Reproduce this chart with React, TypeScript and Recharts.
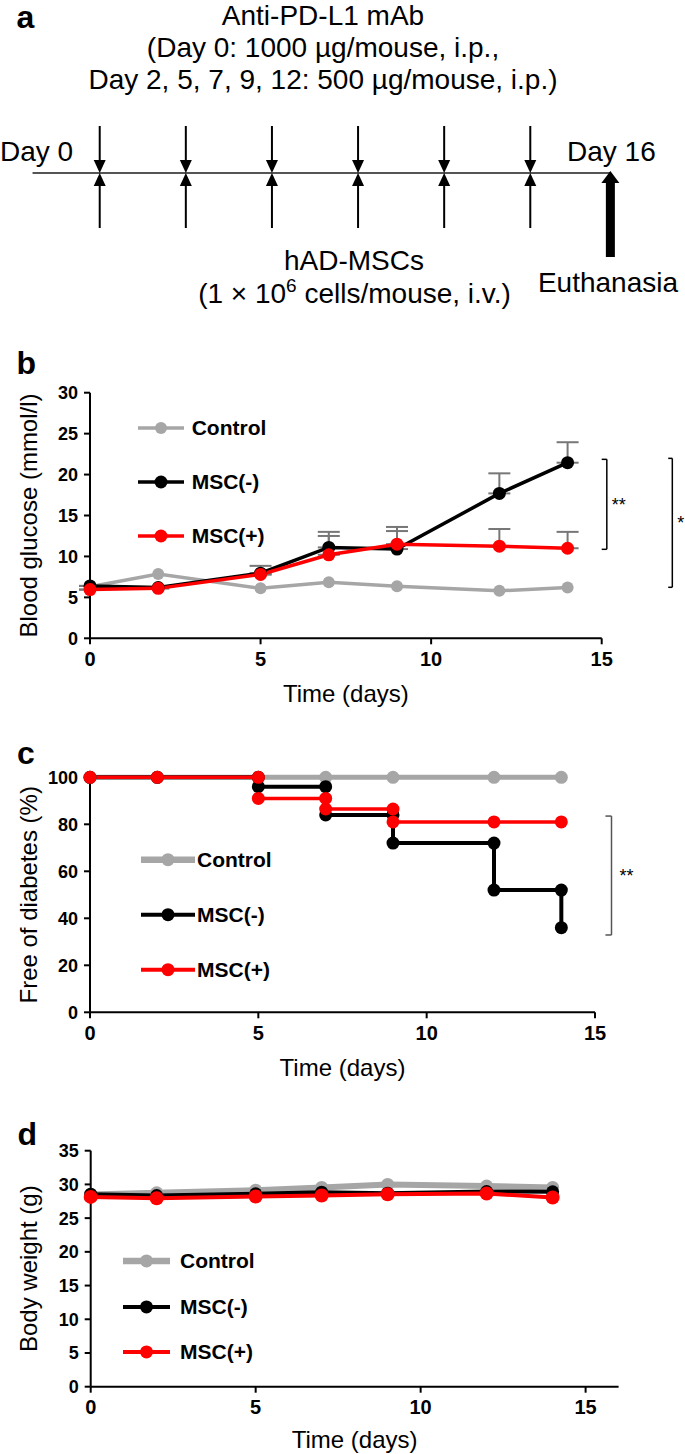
import React from "react";
import {
  ComposedChart,
  LineChart,
  Line,
  XAxis,
  YAxis,
  ErrorBar,
  ReferenceLine,
  Legend,
  ScatterChart,
  Scatter,
} from "recharts";

const FONT = '"Liberation Sans", Arial, Helvetica, sans-serif';
const GRAY = "#a6a6a6";
const BLACK = "#000000";
const RED = "#ff0000";

// a: treatment schedule (schematic slots, evenly spaced)
const doseSlots = [1, 2, 3, 4, 5, 6];
const timelineStart = 0.22;
const euthanasiaSlot = 6.93;

// b/d: measurement days
const days = [0, 2, 5, 7, 9, 12, 14];

// b: blood glucose (mmol/l)
const glucoseControl = [6.3, 7.85, 6.1, 6.85, 6.35, 5.8, 6.2];
const glucoseNeg = [6.4, 6.2, 7.95, 11.1, 10.9, 17.7, 21.45];
const glucosePos = [5.95, 6.1, 7.8, 10.2, 11.5, 11.25, 11.0];
const glucoseNegErr = [0, 0, 0.9, 1.9, 2.7, 2.45, 2.5];
const glucosePosErr = [0, 0, 0, 2.3, 1.6, 2.1, 2.0];
const glucoseTicks = [0, 5, 10, 15, 20, 25, 30];

// c: free of diabetes (%), step curves
const freeControlDays = [0, 2, 5, 7, 9, 12, 14];
const freeControl = [100, 100, 100, 100, 100, 100, 100];
const freeNegDays = [0, 2, 5, 5, 7, 7, 9, 9, 12, 12, 14, 14];
const freeNeg = [100, 100, 100, 96, 96, 84, 84, 72, 72, 52, 52, 36];
const freePosDays = [0, 2, 5, 5, 7, 7, 9, 9, 12, 14];
const freePos = [100, 100, 100, 91, 91, 86.5, 86.5, 81, 81, 81];
const freeTicks = [0, 20, 40, 60, 80, 100];

// d: body weight (g)
const weightControl = [28.5, 28.75, 29.15, 29.55, 30.0, 29.75, 29.55];
const weightNeg = [28.55, 28.35, 28.6, 28.85, 28.7, 28.95, 28.9];
const weightPos = [28.15, 27.95, 28.2, 28.35, 28.55, 28.65, 28.05];
const weightTicks = [0, 5, 10, 15, 20, 25, 30, 35];

const dayTicks = [0, 5, 10, 15];

const glucoseBrackets = [
  { x: 15.15, top: 21.86, bottom: 10.87, label: "**", arm: 0.15 },
  { x: 17.07, top: 21.98, bottom: 6.23, label: "*", arm: 0.12 },
];
const freeBrackets = [{ x: 15.49, top: 83.5, bottom: 32.9, label: "**", arm: 0.18 }];

type LegendItem = { name: string; color: string; width: number; r: number };

const legendB: LegendItem[] = [
  { name: "Control", color: GRAY, width: 3.5, r: 6 },
  { name: "MSC(-)", color: BLACK, width: 3.5, r: 6.5 },
  { name: "MSC(+)", color: RED, width: 3.5, r: 6.5 },
];
const legendCD: LegendItem[] = [
  { name: "Control", color: GRAY, width: 6.5, r: 6.5 },
  { name: "MSC(-)", color: BLACK, width: 4, r: 6.5 },
  { name: "MSC(+)", color: RED, width: 4, r: 6.5 },
];

const LegendRows = ({
  items,
  rowH,
  lineW,
  textX,
}: {
  items: LegendItem[];
  rowH: number;
  lineW: number;
  textX: number;
}) => (
  <div style={{ fontFamily: FONT }}>
    {items.map((s) => (
      <div key={s.name} style={{ position: "relative", height: rowH, width: 170 }}>
        <svg
          width={lineW}
          height={rowH}
          style={{ position: "absolute", left: 0, top: 0, overflow: "visible" }}
        >
          <line x1={0} x2={lineW} y1={rowH / 2} y2={rowH / 2} stroke={s.color} strokeWidth={s.width} />
          <circle cx={lineW / 2} cy={rowH / 2} r={s.r} fill={s.color} />
        </svg>
        <span
          style={{
            position: "absolute",
            left: textX,
            top: 0,
            lineHeight: `${rowH}px`,
            fontSize: 21,
            fontWeight: "bold",
            color: "#000",
            whiteSpace: "nowrap",
          }}
        >
          {s.name}
        </span>
      </div>
    ))}
  </div>
);

const axisLine = { stroke: "#000", strokeWidth: 2 };
const yTick = { fontSize: 18, fontWeight: "bold", fill: "#000" };
const xTick = { fontSize: 20, fontWeight: "bold", fill: "#000" };

function renderBrackets(
  list: { x: number; top: number; bottom: number; label: string; arm: number }[],
  color: string,
  width: number,
  offset: number
) {
  return list.flatMap((b, i) => [
    <ReferenceLine
      key={`v${i}`}
      segment={[
        { x: b.x, y: b.top },
        { x: b.x, y: b.bottom },
      ]}
      stroke={color}
      strokeWidth={width}
      ifOverflow="visible"
      label={{ value: b.label, position: "right", offset, fontSize: 18, fill: "#000" }}
    />,
    <ReferenceLine
      key={`t${i}`}
      segment={[
        { x: b.x - b.arm, y: b.top },
        { x: b.x, y: b.top },
      ]}
      stroke={color}
      strokeWidth={width}
      ifOverflow="visible"
    />,
    <ReferenceLine
      key={`b${i}`}
      segment={[
        { x: b.x - b.arm, y: b.bottom },
        { x: b.x, y: b.bottom },
      ]}
      stroke={color}
      strokeWidth={width}
      ifOverflow="visible"
    />,
  ]);
}

const DoseArrows = (props: any) => {
  const { cx, cy } = props;
  return (
    <g>
      <line x1={cx} x2={cx} y1={cy - 47} y2={cy - 12} stroke="#000" strokeWidth={2} />
      <polygon points={`${cx - 6},${cy - 13} ${cx + 6},${cy - 13} ${cx},${cy}`} fill="#000" />
      <line x1={cx} x2={cx} y1={cy + 55} y2={cy + 12} stroke="#000" strokeWidth={2} />
      <polygon points={`${cx - 6},${cy + 13} ${cx + 6},${cy + 13} ${cx},${cy}`} fill="#000" />
    </g>
  );
};

const EuthArrow = (props: any) => {
  const { cx, cy } = props;
  const tip = cy - 2;
  return (
    <g>
      <rect x={cx - 4.5} y={tip + 10} width={9} height={84 - 8} fill="#000" />
      <polygon points={`${cx - 9},${tip + 12} ${cx + 9},${tip + 12} ${cx},${tip}`} fill="#000" />
    </g>
  );
};

// dots for panel b drawn as scatter marks so they sit above the error bars
const GlucoseDot = (props: any) => {
  const { cx, cy, fill, r } = props;
  return <circle cx={cx} cy={cy} r={r} fill={fill} />;
};

export default function App() {
  const glucoseRows = days.map((day, i) => ({
    day,
    control: glucoseControl[i],
    neg: glucoseNeg[i],
    pos: glucosePos[i],
    negErr: [0, glucoseNegErr[i]],
    posErr: [0, glucosePosErr[i]],
  }));
  const weightRows = days.map((day, i) => ({
    day,
    control: weightControl[i],
    neg: weightNeg[i],
    pos: weightPos[i],
  }));
  const freeControlRows = freeControlDays.map((day, i) => ({ day, v: freeControl[i] }));
  const freeNegRows = freeNegDays.map((day, i) => ({ day, v: freeNeg[i] }));
  const freePosRows = freePosDays.map((day, i) => ({ day, v: freePos[i] }));

  const labelStyle = { fontSize: 24, fill: "#000" };

  return (
    <div
      style={{
        position: "absolute",
        left: 0,
        top: 0,
        width: 685,
        height: 1454,
        background: "#fff",
        fontFamily: FONT,
        overflow: "hidden",
      }}
    >
      {/* a: schedule */}
      <div style={{ position: "absolute", left: 0, top: 73.3 }}>
        <ScatterChart width={685} height={200} margin={{ top: 10, right: 68.6, bottom: 10, left: 13.6 }}>
          <XAxis type="number" dataKey="x" domain={[0, 7]} hide />
          <YAxis type="number" dataKey="y" domain={[-1, 1]} hide />
          <ReferenceLine
            segment={[
              { x: timelineStart, y: 0 },
              { x: euthanasiaSlot, y: 0 },
            ]}
            stroke="#555"
            strokeWidth={2}
            ifOverflow="visible"
          />
          <Scatter data={doseSlots.map((x) => ({ x, y: 0 }))} shape={DoseArrows} isAnimationActive={false} />
          <Scatter data={[{ x: euthanasiaSlot, y: 0 }]} shape={EuthArrow} isAnimationActive={false} />
        </ScatterChart>
      </div>

      {/* b: blood glucose */}
      <div style={{ position: "absolute", left: 0, top: 340 }}>
        <ComposedChart width={685} height={380} data={glucoseRows} margin={{ top: 52.7, right: 83.3, bottom: 11.7, left: 0 }}>
          <XAxis
            type="number"
            dataKey="day"
            domain={[0, 15]}
            ticks={dayTicks}
            height={70}
            axisLine={axisLine}
            tickLine={axisLine}
            tickSize={6}
            tickMargin={7}
            tick={xTick}
            label={{ value: "Time (days)", position: "insideBottom", offset: 6.3, ...labelStyle }}
          />
          <YAxis
            type="number"
            domain={[0, 30]}
            ticks={glucoseTicks}
            width={90}
            axisLine={axisLine}
            tickLine={axisLine}
            tickSize={6}
            tickMargin={6}
            tick={yTick}
            label={{
              value: "Blood glucose (mmol/l)",
              angle: -90,
              position: "insideLeft",
              offset: 28,
              style: { textAnchor: "middle" },
              ...labelStyle,
            }}
          />
          <Legend
            layout="vertical"
            align="center"
            verticalAlign="middle"
            wrapperStyle={{ left: 138, top: 60.7, width: 170, height: 162 }}
            content={() => <LegendRows items={legendB} rowH={54} lineW={46} textX={53.7} />}
          />
          <Line dataKey="neg" stroke="none" dot={false} activeDot={false} isAnimationActive={false} legendType="none">
            <ErrorBar dataKey="negErr" direction="y" width={11} stroke="#777" strokeWidth={2} />
          </Line>
          <Line dataKey="pos" stroke="none" dot={false} activeDot={false} isAnimationActive={false} legendType="none">
            <ErrorBar dataKey="posErr" direction="y" width={11} stroke="#777" strokeWidth={2} />
          </Line>
          <Line dataKey="control" stroke={GRAY} strokeWidth={3.5} dot={false} activeDot={false} isAnimationActive={false} />
          <Line dataKey="neg" stroke={BLACK} strokeWidth={3.5} dot={false} activeDot={false} isAnimationActive={false} />
          <Line dataKey="pos" stroke={RED} strokeWidth={3.5} dot={false} activeDot={false} isAnimationActive={false} />
          <Scatter dataKey="control" fill={GRAY} shape={(p: any) => <GlucoseDot {...p} r={6} />} isAnimationActive={false} legendType="none" />
          <Scatter dataKey="neg" fill={BLACK} shape={(p: any) => <GlucoseDot {...p} r={6.5} />} isAnimationActive={false} legendType="none" />
          <Scatter dataKey="pos" fill={RED} shape={(p: any) => <GlucoseDot {...p} r={6.5} />} isAnimationActive={false} legendType="none" />
          {renderBrackets(glucoseBrackets, "#000", 1.5, 5)}
        </ComposedChart>
      </div>

      {/* c: free of diabetes */}
      <div style={{ position: "absolute", left: 0, top: 740 }}>
        <LineChart width={685} height={345} margin={{ top: 37.3, right: 90, bottom: 2.7, left: 0 }}>
          <XAxis
            type="number"
            dataKey="day"
            domain={[0, 15]}
            ticks={dayTicks}
            height={70}
            axisLine={axisLine}
            tickLine={axisLine}
            tickSize={6}
            tickMargin={7}
            tick={xTick}
            allowDuplicatedCategory
            label={{ value: "Time (days)", position: "insideBottom", offset: 6.3, ...labelStyle }}
          />
          <YAxis
            type="number"
            domain={[0, 100]}
            ticks={freeTicks}
            width={90}
            axisLine={axisLine}
            tickLine={axisLine}
            tickSize={6}
            tickMargin={6}
            tick={yTick}
            label={{
              value: "Free of diabetes (%)",
              angle: -90,
              position: "insideLeft",
              offset: 28,
              style: { textAnchor: "middle" },
              ...labelStyle,
            }}
          />
          <Legend
            layout="vertical"
            align="center"
            verticalAlign="middle"
            wrapperStyle={{ left: 140.7, top: 91.6, width: 170, height: 167 }}
            content={() => <LegendRows items={legendCD} rowH={55.4} lineW={54} textX={56.3} />}
          />
          <Line data={freeControlRows} dataKey="v" stroke={GRAY} strokeWidth={5} dot={{ r: 6.5, fill: GRAY, stroke: "none" }} activeDot={false} isAnimationActive={false} />
          <Line data={freeNegRows} dataKey="v" stroke={BLACK} strokeWidth={4} dot={{ r: 6.5, fill: BLACK, stroke: "none" }} activeDot={false} isAnimationActive={false} />
          <Line data={freePosRows} dataKey="v" stroke={RED} strokeWidth={3.5} dot={{ r: 6.5, fill: RED, stroke: "none" }} activeDot={false} isAnimationActive={false} />
          {renderBrackets(freeBrackets, "#555", 1.5, 8)}
        </LineChart>
      </div>

      {/* d: body weight */}
      <div style={{ position: "absolute", left: 0, top: 1100 }}>
        <LineChart width={685} height={354} data={weightRows} margin={{ top: 50.7, right: 66.4, bottom: 2.3, left: 0 }}>
          <XAxis
            type="number"
            dataKey="day"
            domain={[0, 16]}
            ticks={dayTicks}
            height={65}
            axisLine={axisLine}
            tickLine={axisLine}
            tickSize={6}
            tickMargin={7}
            tick={xTick}
            label={{ value: "Time (days)", position: "insideBottom", offset: 3.7, ...labelStyle }}
          />
          <YAxis
            type="number"
            domain={[0, 35]}
            ticks={weightTicks}
            width={90.7}
            axisLine={axisLine}
            tickLine={axisLine}
            tickSize={6}
            tickMargin={6}
            tick={yTick}
            label={{
              value: "Body weight (g)",
              angle: -90,
              position: "insideLeft",
              offset: 28,
              style: { textAnchor: "middle" },
              ...labelStyle,
            }}
          />
          <Legend
            layout="vertical"
            align="center"
            verticalAlign="middle"
            wrapperStyle={{ left: 123, top: 137.8, width: 170, height: 138 }}
            content={() => <LegendRows items={legendCD} rowH={45.8} lineW={47} textX={57} />}
          />
          <Line dataKey="control" stroke={GRAY} strokeWidth={6} dot={{ r: 6.5, fill: GRAY, stroke: "none" }} activeDot={false} isAnimationActive={false} />
          <Line dataKey="neg" stroke={BLACK} strokeWidth={4} dot={{ r: 6.5, fill: BLACK, stroke: "none" }} activeDot={false} isAnimationActive={false} />
          <Line dataKey="pos" stroke={RED} strokeWidth={4} dot={{ r: 7, fill: RED, stroke: "none" }} activeDot={false} isAnimationActive={false} />
        </LineChart>
      </div>

      {/* panel letters and schedule text */}
      <svg
        width={685}
        height={1454}
        style={{ position: "absolute", left: 0, top: 0, pointerEvents: "none", fontFamily: FONT }}
      >
        <g fontWeight="bold" fontSize={32} fill="#000">
          <text x={16.5} y={28}>a</text>
          <text x={16.5} y={374}>b</text>
          <text x={17} y={764}>c</text>
          <text x={17.5} y={1145}>d</text>
        </g>
        <g fontSize={28} fill="#000">
          <text x={323} y={25} textAnchor="middle">Anti-PD-L1 mAb</text>
          <text x={323} y={56.5} textAnchor="middle">(Day 0: 1000 µg/mouse, i.p.,</text>
          <text x={323} y={88.5} textAnchor="middle">Day 2, 5, 7, 9, 12: 500 µg/mouse, i.p.)</text>
          <text x={0} y={160.7}>Day 0</text>
          <text x={567} y={160.7}>Day 16</text>
          <text x={354} y={270} textAnchor="middle">hAD-MSCs</text>
          <text x={354.5} y={303} textAnchor="middle">
            (1 × 10<tspan dy={-11} fontSize={19}>6</tspan>
            <tspan dy={11}> cells/mouse, i.v.)</tspan>
          </text>
          <text x={608} y={291.7} textAnchor="middle">Euthanasia</text>
        </g>
      </svg>
    </div>
  );
}
